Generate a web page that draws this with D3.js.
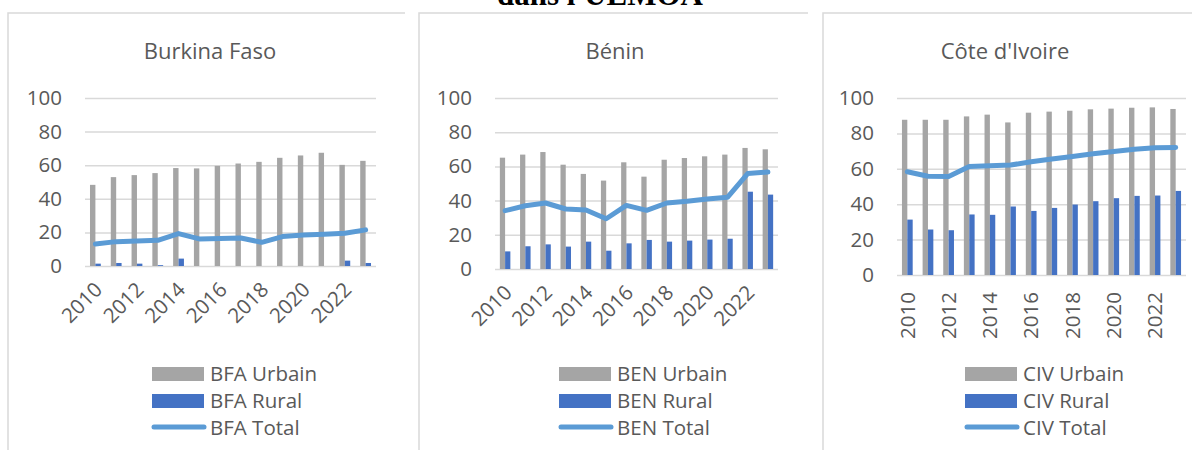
<!DOCTYPE html>
<meta charset="utf-8">
<html lang="fr">
<head>
  <script src="https://cdn.jsdelivr.net/npm/d3@7"></script>
  <style>
    body { margin: 0; background: #fff; }
    svg text { font-family: "Open Sans", sans-serif; fill: #595959; }
  </style>
</head>
<body>
<svg id="chart" width="1192" height="450"></svg>
<script>
  // categories and ticks
  const years = [2010, 2011, 2012, 2013, 2014, 2015, 2016, 2017, 2018, 2019, 2020, 2021, 2022, 2023];
  const tickYears = [2010, 2012, 2014, 2016, 2018, 2020, 2022];
  const yTicks = [0, 20, 40, 60, 80, 100];

  // Burkina Faso
  const bfaUrbain = [48.3, 52.9, 54.1, 55.3, 58.3, 58.1, 59.6, 61.0, 62.0, 64.4, 65.8, 67.4, 60.2, 62.6];
  const bfaRural  = [1.4, 1.8, 1.4, 0.5, 4.4, 0, 0, 0, 0, 0, 0, 0, 3.2, 1.8];
  const bfaTotal  = [13.1, 14.5, 14.9, 15.3, 19.3, 16.1, 16.3, 16.7, 14.1, 17.5, 18.5, 18.9, 19.5, 21.5];

  // Bénin
  const benUrbain = [65.1, 66.9, 68.4, 61.0, 55.6, 51.7, 62.4, 54.0, 63.9, 64.9, 65.9, 66.9, 70.8, 70.0];
  const benRural  = [10.3, 13.3, 14.4, 13.1, 16.0, 10.7, 15.0, 17.0, 16.0, 16.6, 17.2, 17.7, 45.2, 43.5];
  const benTotal  = [34.1, 37.0, 38.6, 35.1, 34.5, 29.4, 37.2, 34.3, 38.6, 39.6, 40.9, 41.9, 55.8, 56.7];

  // Côte d'Ivoire
  const civUrbain = [87.7, 87.7, 87.7, 89.6, 90.6, 86.2, 91.7, 92.3, 92.8, 93.6, 94.0, 94.5, 94.7, 93.8];
  const civRural  = [31.3, 25.7, 25.3, 34.2, 34.0, 38.7, 36.2, 37.9, 39.8, 41.7, 43.4, 44.7, 44.9, 47.5];
  const civTotal  = [58.3, 55.8, 55.7, 61.3, 61.7, 62.1, 64.0, 65.5, 67.0, 68.5, 69.8, 71.1, 71.9, 72.1];

  const GREY = '#A5A5A5', BLUE = '#4472C4', LINE = '#5B9BD5', GRID = '#D9D9D9';
  const FS = '20.5px';

  const panels = [
    { title: 'Burkina Faso', code: 'BFA', urbain: bfaUrbain, rural: bfaRural, total: bfaTotal,
      left: 8, right: 405, titleX: 210, plot: [85, 376], yr: [266, 98], rotate: -45, legendX: 152 },
    { title: 'Bénin', code: 'BEN', urbain: benUrbain, rural: benRural, total: benTotal,
      left: 419, right: 808, titleX: 615, plot: [495, 778], yr: [269, 98], rotate: -45, legendX: 559 },
    { title: "Côte d'Ivoire", code: 'CIV', urbain: civUrbain, rural: civRural, total: civTotal,
      left: 823, right: 1192, titleX: 1005, plot: [897, 1186], yr: [275, 98], rotate: -90, legendX: 965 }
  ];

  const svg = d3.select('#chart');

  // heading of the page above, cropped at the top edge like the reference
  svg.append('text')
    .attr('x', 600).attr('y', 5)
    .attr('text-anchor', 'middle')
    .style('font-family', '"Liberation Serif", serif')
    .style('font-weight', 'bold').style('font-size', '31px').style('fill', '#000')
    .text("dans l'UEMOA");

  panels.forEach(function(p) {
    const g = svg.append('g');

    // chart area border (top + left, rest is cropped)
    g.append('path')
      .attr('d', `M${p.left},450 V13 H${p.right}`)
      .attr('fill', 'none').attr('stroke', GRID).attr('stroke-width', 1.5);

    g.append('text')
      .attr('x', p.titleX).attr('y', 59)
      .attr('text-anchor', 'middle')
      .style('font-size', '22px')
      .text(p.title);

    const x = d3.scaleBand().domain(years).range(p.plot);
    const y = d3.scaleLinear().domain([0, 100]).range(p.yr);
    const step = x.step(), barW = step * 0.26;

    // y axis + gridlines
    const yAxis = g.append('g')
      .attr('transform', `translate(${p.plot[0]},0)`)
      .call(d3.axisLeft(y).tickValues(yTicks).tickSize(-(p.plot[1] - p.plot[0])).tickPadding(23));
    yAxis.select('.domain').remove();
    yAxis.selectAll('line').attr('stroke', GRID).attr('stroke-width', 1.5);
    yAxis.selectAll('text').style('font-size', FS).attr('fill', null);

    // bars
    g.append('g').selectAll('rect').data(years).enter().append('rect')
      .attr('x', d => x(d) + step / 2 - barW).attr('width', barW)
      .attr('y', (d, i) => y(p.urbain[i]))
      .attr('height', (d, i) => y(0) - y(p.urbain[i]))
      .attr('fill', GREY);

    g.append('g').selectAll('rect').data(years).enter().append('rect')
      .attr('x', d => x(d) + step / 2).attr('width', barW)
      .attr('y', (d, i) => y(p.rural[i]))
      .attr('height', (d, i) => y(0) - y(p.rural[i]))
      .attr('fill', BLUE);

    // total line
    const line = d3.line()
      .x((d, i) => x(years[i]) + step / 2)
      .y(d => y(d));
    g.append('path').datum(p.total)
      .attr('d', line)
      .attr('fill', 'none').attr('stroke', LINE).attr('stroke-width', 5)
      .attr('stroke-linejoin', 'round').attr('stroke-linecap', 'round');

    // x axis labels
    const xAxis = g.append('g')
      .attr('transform', `translate(0,${y(0)})`)
      .call(d3.axisBottom(x).tickValues(tickYears).tickSize(0));
    xAxis.select('.domain').remove();
    const xt = xAxis.selectAll('text').style('font-size', FS).attr('fill', null)
      .attr('text-anchor', 'end').attr('y', 0).attr('dy', '0.35em');
    if (p.rotate === -45) {
      xt.attr('transform', 'translate(3,20) rotate(-45)');
    } else {
      xt.attr('transform', `translate(0,${292 - y(0)}) rotate(-90)`);
    }

    // legend
    const rows = [381, 408, 435];
    const lg = g.append('g');
    lg.append('rect').attr('x', p.legendX).attr('y', rows[0] - 14)
      .attr('width', 52).attr('height', 14).attr('fill', GREY);
    lg.append('rect').attr('x', p.legendX).attr('y', rows[1] - 14)
      .attr('width', 52).attr('height', 14).attr('fill', BLUE);
    lg.append('line').attr('x1', p.legendX + 2).attr('x2', p.legendX + 52)
      .attr('y1', rows[2] - 8).attr('y2', rows[2] - 8)
      .attr('stroke', LINE).attr('stroke-width', 5).attr('stroke-linecap', 'round');
    ['Urbain', 'Rural', 'Total'].forEach(function(s, i) {
      lg.append('text').attr('x', p.legendX + 58).attr('y', rows[i])
        .style('font-size', FS)
        .text(p.code + ' ' + s);
    });
  });
</script>
</body>
</html>
